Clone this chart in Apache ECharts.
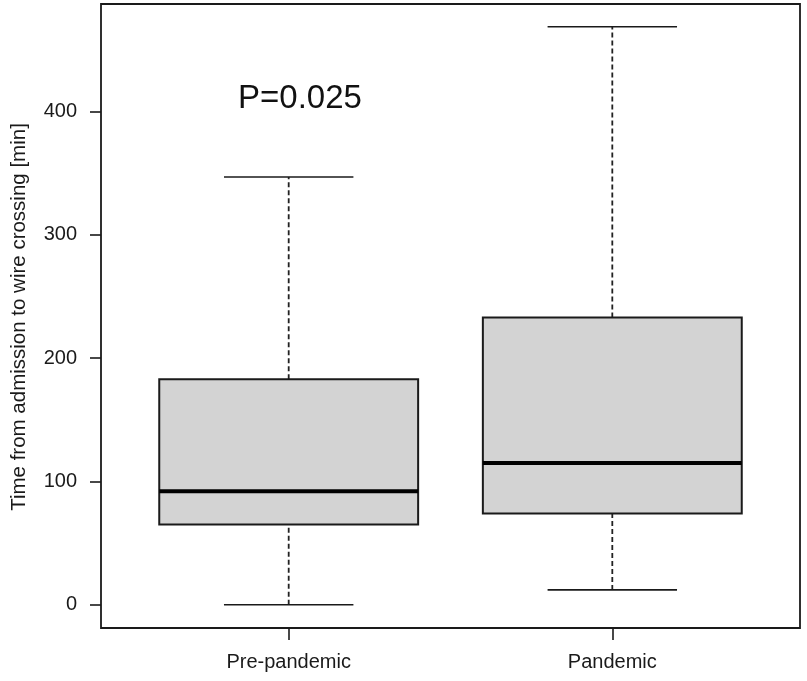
<!DOCTYPE html>
<html>
<head>
<meta charset="utf-8">
<script src="https://cdn.jsdelivr.net/npm/echarts@6/dist/echarts.min.js"></script>
<style>
  html, body { margin: 0; padding: 0; background: #fff; }
  #chart { width: 807px; height: 681px; }
</style>
</head>
<body>
<div id="chart"></div>
<script>
var categories = ['Pre-pandemic', 'Pandemic'];
var whiskerLow = [0, 12];
var lowerQuartile = [65, 74];
var medians = [92, 115];
var upperQuartile = [183, 233];
var whiskerHigh = [347, 469];
var yTicks = [0, 100, 200, 300, 400];

var boxData = categories.map(function (c, i) {
    return [i + 1, whiskerLow[i], lowerQuartile[i], medians[i], upperQuartile[i], whiskerHigh[i]];
});

var ink = '#1a1a1a';

function renderBox(params, api) {
    var x = api.value(0);
    var lo = api.coord([x, api.value(1)]);
    var q1 = api.coord([x, api.value(2)]);
    var med = api.coord([x, api.value(3)]);
    var q3 = api.coord([x, api.value(4)]);
    var hi = api.coord([x, api.value(5)]);
    var half = api.size([0.4, 0])[0];
    var cap = half / 2;
    var cx = q1[0];
    var dashed = { stroke: '#222', lineWidth: 1.8, lineDash: [5, 3] };
    var solid = { stroke: ink, lineWidth: 1.6 };
    return {
        type: 'group',
        children: [
            { type: 'line', shape: { x1: cx, y1: q3[1], x2: cx, y2: hi[1] }, style: dashed },
            { type: 'line', shape: { x1: cx, y1: lo[1], x2: cx, y2: q1[1] }, style: dashed },
            { type: 'line', shape: { x1: cx - cap, y1: hi[1], x2: cx + cap, y2: hi[1] }, style: solid },
            { type: 'line', shape: { x1: cx - cap, y1: lo[1], x2: cx + cap, y2: lo[1] }, style: solid },
            {
                type: 'rect',
                shape: { x: cx - half, y: q3[1], width: half * 2, height: q1[1] - q3[1] },
                style: { fill: '#d3d3d3', stroke: ink, lineWidth: 2 }
            },
            { type: 'line', shape: { x1: cx - half, y1: med[1], x2: cx + half, y2: med[1] }, style: { stroke: '#000', lineWidth: 4 } }
        ]
    };
}

var myChart = echarts.init(document.getElementById('chart'));

var option = {
    backgroundColor: '#fff',
    animation: false,
    textStyle: { fontFamily: 'Liberation Sans, Arial, sans-serif' },
    grid: {
        left: 101, top: 4, right: 7, bottom: 53,
        show: true, borderColor: ink, borderWidth: 1.8, backgroundColor: 'transparent'
    },
    xAxis: {
        type: 'value',
        min: 0.42,
        max: 2.58,
        splitLine: { show: false },
        axisLine: { show: false, onZero: false },
        axisTick: { show: true, length: 12, customValues: [1, 2], lineStyle: { color: ink, width: 1.6 } },
        axisLabel: {
            customValues: [1, 2],
            margin: 24,
            fontSize: 20,
            color: ink,
            formatter: function (v) { return categories[Math.round(v) - 1] || ''; }
        }
    },
    yAxis: {
        type: 'value',
        min: -18.9,
        max: 487.4,
        splitLine: { show: false },
        axisLine: { show: false, onZero: false },
        axisTick: { show: true, length: 11, customValues: yTicks, lineStyle: { color: ink, width: 1.6 } },
        axisLabel: {
            customValues: yTicks,
            margin: 24,
            fontSize: 20,
            color: ink
        }
    },
    graphic: [
        {
            type: 'text',
            x: 19,
            y: 317,
            rotation: Math.PI / 2,
            style: {
                text: 'Time from admission to wire crossing [min]',
                fontSize: 20.5,
                fontFamily: 'Liberation Sans, Arial, sans-serif',
                fill: ink,
                align: 'center',
                verticalAlign: 'middle'
            }
        },
        {
            type: 'text',
            x: 300,
            y: 99,
            style: {
                text: 'P=0.025',
                fontSize: 33,
                fontFamily: 'Liberation Sans, Arial, sans-serif',
                fill: '#111',
                align: 'center',
                verticalAlign: 'middle'
            }
        }
    ],
    series: [
        {
            type: 'custom',
            renderItem: renderBox,
            encode: { x: 0, y: [1, 2, 3, 4, 5] },
            data: boxData
        }
    ]
};

myChart.setOption(option);
</script>
</body>
</html>
